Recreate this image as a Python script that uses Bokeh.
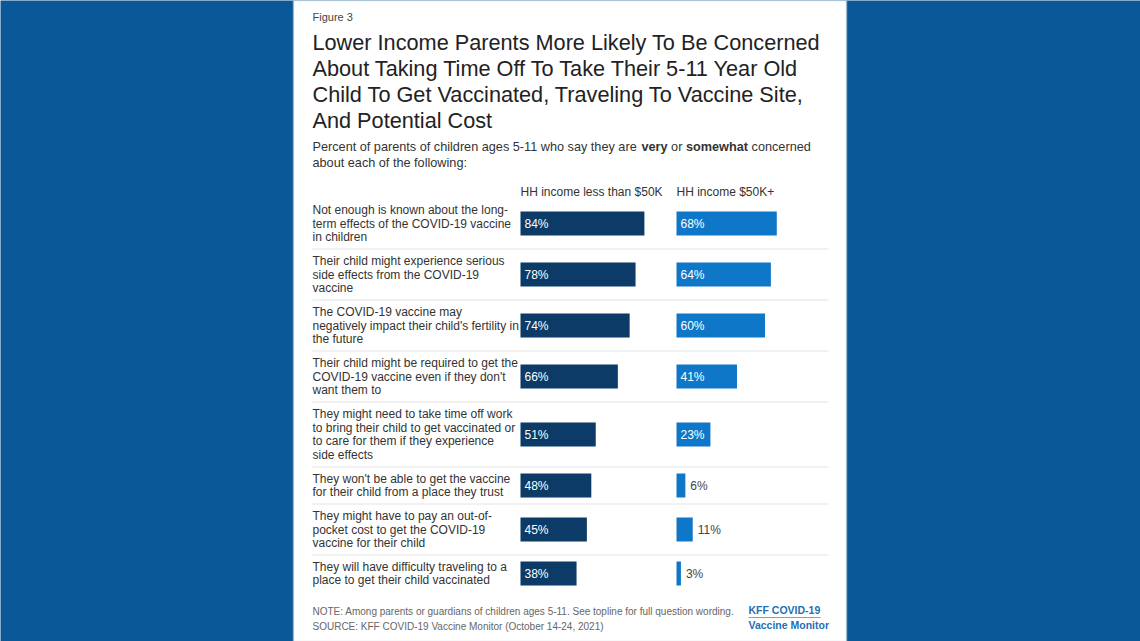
from bokeh.plotting import figure
from bokeh.models import Range1d, BoxAnnotation, ColumnDataSource
from bokeh.core.properties import value
from bokeh.embed import file_html
from bokeh.resources import INLINE

# ---------------- data ----------------
figure_label = "Figure 3"
title_lines = [
    "Lower Income Parents More Likely To Be Concerned",
    "About Taking Time Off To Take Their 5-11 Year Old",
    "Child To Get Vaccinated, Traveling To Vaccine Site,",
    "And Potential Cost",
]
subtitle_parts = [
    ("Percent of parents of children ages 5-11 who say they are ", "normal"),
    ("very", "bold"),
    (" or ", "normal"),
    ("somewhat", "bold"),
    (" concerned", "normal"),
]
subtitle_line2 = "about each of the following:"
series_names = ["HH income less than $50K", "HH income $50K+"]
concerns = [
    "Not enough is known about the long-\nterm effects of the COVID-19 vaccine\nin children",
    "Their child might experience serious\nside effects from the COVID-19\nvaccine",
    "The COVID-19 vaccine may\nnegatively impact their child's fertility in\nthe future",
    "Their child might be required to get the\nCOVID-19 vaccine even if they don't\nwant them to",
    "They might need to take time off work\nto bring their child to get vaccinated or\nto care for them if they experience\nside effects",
    "They won't be able to get the vaccine\nfor their child from a place they trust",
    "They might have to pay an out-of-\npocket cost to get the COVID-19\nvaccine for their child",
    "They will have difficulty traveling to a\nplace to get their child vaccinated",
]
low_income = [84, 78, 74, 66, 51, 48, 45, 38]
high_income = [68, 64, 60, 41, 23, 6, 11, 3]
note_text = "NOTE: Among parents or guardians of children ages 5-11. See topline for full question wording."
source_text = "SOURCE: KFF COVID-19 Vaccine Monitor (October 14-24, 2021)"
logo_lines = ["KFF COVID-19", "Vaccine Monitor"]

# ---------------- styling / layout ----------------
FONT = "Liberation Sans"
BG = "#0a5897"
DARK = "#0b3b66"
LIGHT = "#0f77c8"
TXT = "#333333"
W, H = 1140, 641
TEXT_X = 312
PANEL_L, PANEL_R = 293, 846
PX_PER_PCT = 1.475
LOW_X0, HIGH_X0 = 520, 676
BAR_H = 24
LINE_H = 13.7
ROW_TOP = 197.5

# Arial / Liberation Sans advance widths (1/1000 em)
REG = dict(zip(" -abcdefghijklmnopqrstuvwxyzP0123456789",
               [278, 333, 556, 556, 500, 556, 556, 278, 556, 556, 222, 222, 500, 222, 833, 556, 556,
                556, 556, 333, 500, 278, 556, 500, 722, 500, 500, 500, 667] + [556] * 10))
BOLD = dict(zip(" -abcdefghijklmnopqrstuvwxyz",
                [278, 333, 556, 611, 556, 611, 556, 333, 611, 611, 278, 278, 556, 278, 889, 611, 611,
                 611, 611, 389, 556, 333, 611, 556, 778, 556, 556, 500]))


def text_width(s, size, style):
    tbl = BOLD if style == "bold" else REG
    return sum(tbl.get(c, 556) for c in s) * size / 1000.0


p = figure(width=W, height=H, x_range=Range1d(0, W), y_range=Range1d(H, 0),
           x_axis_type=None, y_axis_type=None, toolbar_location=None,
           output_backend="svg", min_border=0, outline_line_color=None,
           background_fill_color=BG, border_fill_color=BG)
p.extra_x_ranges = {
    "low": Range1d(-LOW_X0 / PX_PER_PCT, (W - LOW_X0) / PX_PER_PCT),
    "high": Range1d(-HIGH_X0 / PX_PER_PCT, (W - HIGH_X0) / PX_PER_PCT),
}

p.add_layout(BoxAnnotation(left=PANEL_L, right=PANEL_R, fill_color="white", fill_alpha=1.0,
                           line_color="#d2d2d2", line_width=2, level="underlay"))


def put(x, y, s, size, color=TXT, style="normal", align="left"):
    p.text(x=[x], y=[y], text=[s], text_font=value(FONT), text_font_size=value(f"{size}px"),
           text_font_style=style, text_color=color, text_baseline="middle", text_align=align)


# header texts
put(TEXT_X, 16.5, figure_label, 11, color="#444444")
for i, line in enumerate(title_lines):
    put(TEXT_X, 41.5 + i * 26.3, line, 21.7, color="#222222")
sx = TEXT_X
for part, style in subtitle_parts:
    lead = len(part) - len(part.lstrip(" "))
    put(sx + text_width(part[:lead], 12.7, style), 146.5, part.strip(" "), 12.7, style=style)
    sx += text_width(part, 12.7, style)
put(TEXT_X, 162.5, subtitle_line2, 12.7)
put(LOW_X0, 191, series_names[0], 12)
put(HIGH_X0, 191, series_names[1], 12)

# rows layout from label line counts
centers, bottoms = [], []
top = ROW_TOP
for c in concerns:
    n = len(c.split("\n"))
    h = 9 + 14 * n
    centers.append(top + h / 2.0)
    bottoms.append(top + h)
    top += h

lx, ly, lt = [], [], []
for c, yc in zip(concerns, centers):
    lines = c.split("\n")
    for k, ln in enumerate(lines):
        lx.append(TEXT_X)
        ly.append(yc + (k - (len(lines) - 1) / 2.0) * LINE_H)
        lt.append(ln)
p.text(x=lx, y=ly, text=lt, text_font=value(FONT), text_font_size=value("12px"),
       text_color=TXT, text_baseline="middle", text_align="left")

p.segment(x0=[TEXT_X] * (len(bottoms) - 1), x1=[828] * (len(bottoms) - 1),
          y0=bottoms[:-1], y1=bottoms[:-1], line_color="#e3e3e3", line_width=1)

for vals, rng, color in ((low_income, "low", DARK), (high_income, "high", LIGHT)):
    inside = [v >= 15 for v in vals]
    src = ColumnDataSource(dict(
        y=centers, v=vals,
        lab=[f"{v}%" for v in vals],
        lx=[0 if ins else v for v, ins in zip(vals, inside)],
        off=[4 if ins else 5 for ins in inside],
        lc=["white" if ins else "#444444" for ins in inside],
    ))
    p.hbar(y="y", left=0, right="v", height=BAR_H, source=src, fill_color=color,
           line_color=None, x_range_name=rng)
    p.text(x="lx", y="y", text="lab", x_offset="off", source=src, x_range_name=rng,
           text_font=value(FONT), text_font_size=value("12px"), text_color="lc",
           text_baseline="middle", text_align="left")

# footer
put(TEXT_X, 611, note_text, 10, color="#666666")
put(TEXT_X, 625.5, source_text, 10, color="#666666")
put(748, 609.5, logo_lines[0], 10.5, color="#1f6fb2", style="bold")
put(748, 624.5, logo_lines[1], 10.5, color="#1f6fb2", style="bold")
p.segment(x0=[748], x1=[820], y0=[617], y1=[617], line_color="#9a9a9a", line_width=1)

html = file_html(p, INLINE)
html = html.replace("<body>", '<body style="margin:0;overflow:hidden;background-color:%s;">' % BG, 1)
open("out.html", "w").write(html)
